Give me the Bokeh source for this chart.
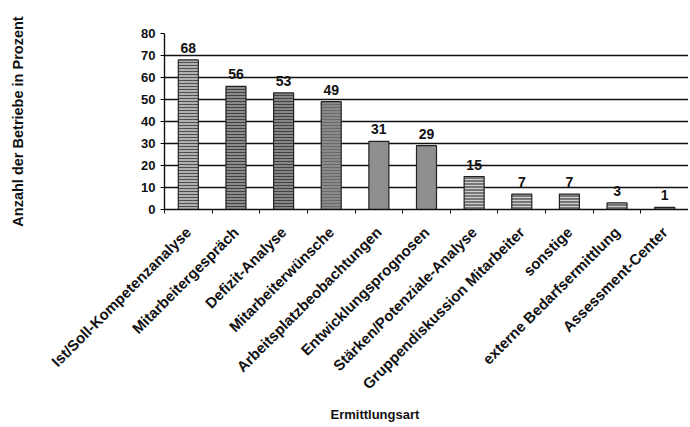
import math
from bokeh.plotting import figure
from bokeh.models import ColumnDataSource, Range1d, FixedTicker, Title
from bokeh.core.properties import value
from bokeh.embed import file_html
from bokeh.resources import INLINE

categories = ["Ist/Soll-Kompetenzanalyse", "Mitarbeitergespräch", "Defizit-Analyse",
              "Mitarbeiterwünsche", "Arbeitsplatzbeobachtungen", "Entwicklungsprognosen",
              "Stärken/Potenziale-Analyse", "Gruppendiskussion Mitarbeiter", "sonstige",
              "externe Bedarfsermittlung", "Assessment-Center"]
values = [68, 56, 53, 49, 31, 29, 15, 7, 7, 3, 1]
y_ticks = [0, 10, 20, 30, 40, 50, 60, 70, 80]

fills = ["#b0b0b0", "#8a8a8a", "#868686", "#8a8a8a", "#8f8f8f", "#8f8f8f",
         "#777777", "#777777", "#777777", "#777777", "#777777"]
hatches = ["horizontal_line", "horizontal_line", "horizontal_line", "horizontal_line", " ", " ",
           "horizontal_line", "horizontal_line", "horizontal_line", "horizontal_line", "horizontal_line"]
hatch_cols = ["#444444", "#3a3a3a", "#3a3a3a", "#666666", "#555555", "#555555",
              "#d8d8d8", "#d8d8d8", "#d8d8d8", "#d8d8d8", "#d8d8d8"]

n = len(categories)
centers = [i + 0.5 for i in range(n)]
bounds = list(range(n + 1))

src = ColumnDataSource(dict(x=centers, top=values, fill=fills, hatch=hatches, hc=hatch_cols,
                            lab=[str(v) for v in values]))

FONT = "Liberation Sans"

p = figure(frame_width=524, frame_height=176, output_backend="svg", toolbar_location=None,
           x_range=Range1d(0, n), y_range=Range1d(0, 80),
           min_border_left=164, min_border_right=0, min_border_top=33, min_border_bottom=212)
p.outline_line_color = None
p.background_fill_color = "white"
p.border_fill_color = "white"

p.vbar(x="x", top="top", width=0.42, source=src, fill_color="fill", line_color="#222222",
       line_width=1.2, hatch_pattern="hatch", hatch_color="hc", hatch_scale=3.0,
       hatch_weight=0.9)

p.text(x="x", y="top", text="lab", source=src, text_align="center", text_baseline="bottom",
       y_offset=-7, text_font=value(FONT), text_font_style="bold", text_font_size="14px",
       text_color="#111111")

# grid
p.xgrid.visible = False
p.ygrid.ticker = FixedTicker(ticks=y_ticks)
p.ygrid.grid_line_color = "#111111"
p.ygrid.grid_line_width = 1.4

# y axis
p.yaxis.ticker = FixedTicker(ticks=y_ticks)
p.yaxis.axis_line_color = "#111111"
p.yaxis.axis_line_width = 1.4
p.yaxis.major_tick_out = 4
p.yaxis.major_tick_in = 0
p.yaxis.minor_tick_line_color = None
p.yaxis.major_label_text_font = FONT
p.yaxis.major_label_text_font_style = "bold"
p.yaxis.major_label_text_font_size = "13px"
p.yaxis.major_label_text_color = "#111111"
p.yaxis.axis_label = "Anzahl der Betriebe in Prozent"
p.yaxis.axis_label_text_font = FONT
p.yaxis.axis_label_text_font_style = "bold"
p.yaxis.axis_label_text_font_size = "14.5px"
p.yaxis.axis_label_text_color = "#111111"
p.yaxis.axis_label_standoff = 112

# x axis
p.xaxis.ticker = FixedTicker(ticks=centers, minor_ticks=bounds)
p.xaxis.major_label_overrides = {c: lab for c, lab in zip(centers, categories)}
p.xaxis.major_label_orientation = math.pi / 4
p.xaxis.major_tick_out = 0
p.xaxis.major_tick_in = 0
p.xaxis.minor_tick_out = 4
p.xaxis.minor_tick_in = 0
p.xaxis.minor_tick_line_color = "#111111"
p.xaxis.axis_line_color = "#111111"
p.xaxis.axis_line_width = 1.4
p.xaxis.major_label_standoff = 16
p.xaxis.major_label_text_font = FONT
p.xaxis.major_label_text_font_style = "bold"
p.xaxis.major_label_text_font_size = "15px"
p.xaxis.major_label_text_color = "#111111"

p.add_layout(Title(text="Ermittlungsart", align="left", offset=166, standoff=6,
                   text_font=FONT, text_font_style="bold", text_font_size="13px",
                   text_color="#111111"), "below")

open("out.html", "w").write(file_html(p, INLINE))
